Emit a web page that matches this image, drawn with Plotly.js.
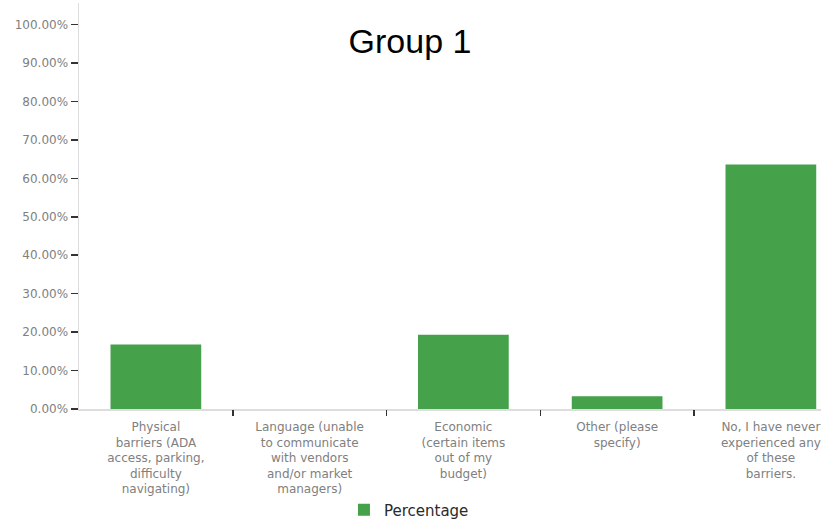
<!DOCTYPE html>
<html>
<head>
<meta charset="utf-8">
<script src="https://cdn.plot.ly/plotly-3.0.1.min.js"></script>
<style>html,body{margin:0;padding:0;background:#fff;}#chart{width:821px;height:520px;}</style>
</head>
<body>
<div id="chart"></div>
<script>
var categories = [
  "Physical<br>barriers (ADA<br>access, parking,<br>difficulty<br>navigating)",
  "Language (unable<br>to communicate<br>with vendors<br>and/or market<br>managers)",
  "Economic<br>(certain items<br>out of my<br>budget)",
  "Other (please<br>specify)",
  "No, I have never<br>experienced any<br>of these<br>barriers."
];
var percentages = [16.8, 0, 19.3, 3.3, 63.6];
var tickValues = [0, 10, 20, 30, 40, 50, 60, 70, 80, 90, 100];
var tickLabels = ["0.00%", "10.00%", "20.00%", "30.00%", "40.00%", "50.00%", "60.00%", "70.00%", "80.00%", "90.00%", "100.00%"];
var boundaryTicks = [0.5, 1.5, 2.5, 3.5];

var trace = {
  type: "bar",
  x: categories,
  y: percentages,
  name: "Percentage",
  width: 0.59,
  marker: {color: "#45a14a", line: {width: 0}},
  hoverinfo: "y"
};

var boundaryTrace = {
  type: "scatter",
  mode: "markers",
  x: [],
  y: [],
  xaxis: "x2",
  yaxis: "y",
  showlegend: false,
  hoverinfo: "skip"
};

var layout = {
  width: 821,
  height: 520,
  margin: {l: 79, r: 0, t: 3, b: 111},
  paper_bgcolor: "#ffffff",
  plot_bgcolor: "#ffffff",
  showlegend: true,
  legend: {
    orientation: "h",
    x: 0.4447, xref: "paper", xanchor: "center",
    y: 1 - 510 / 520, yref: "container", yanchor: "middle",
    font: {family: "DejaVu Sans", size: 15, color: "#2a2a2a"}
  },
  title: {
    text: "Group 1",
    font: {family: "Liberation Sans", size: 34, color: "#000000"},
    x: 410 / 821, xref: "container", xanchor: "center",
    y: 1 - 41 / 520, yref: "container", yanchor: "middle"
  },
  xaxis: {
    type: "category",
    range: [-0.5, 4.326],
    showgrid: false,
    showline: true,
    linecolor: "#dddddd",
    linewidth: 1.5,
    ticks: "outside",
    ticklen: 6,
    tickcolor: "rgba(0,0,0,0)",
    ticklabelstandoff: 0,
    tickfont: {family: "DejaVu Sans", size: 12, color: "#808080"},
    zeroline: false,
    fixedrange: true
  },
  xaxis2: {
    overlaying: "x",
    anchor: "y",
    side: "bottom",
    range: [-0.5, 4.326],
    tickmode: "array",
    tickvals: boundaryTicks,
    showticklabels: false,
    showgrid: false,
    showline: false,
    zeroline: false,
    ticks: "outside",
    ticklen: 6,
    tickwidth: 1.5,
    tickcolor: "#333333",
    fixedrange: true
  },
  yaxis: {
    range: [0, 105.6],
    tickmode: "array",
    tickvals: tickValues,
    ticktext: tickLabels,
    showgrid: false,
    showline: true,
    linecolor: "#dddddd",
    linewidth: 1.5,
    ticks: "outside",
    ticklen: 7,
    tickwidth: 1.5,
    tickcolor: "#333333",
    tickfont: {family: "DejaVu Sans", size: 12, color: "#808080"},
    zeroline: false,
    fixedrange: true
  }
};

Plotly.newPlot("chart", [trace, boundaryTrace], layout, {displayModeBar: false, staticPlot: true});
</script>
</body>
</html>
